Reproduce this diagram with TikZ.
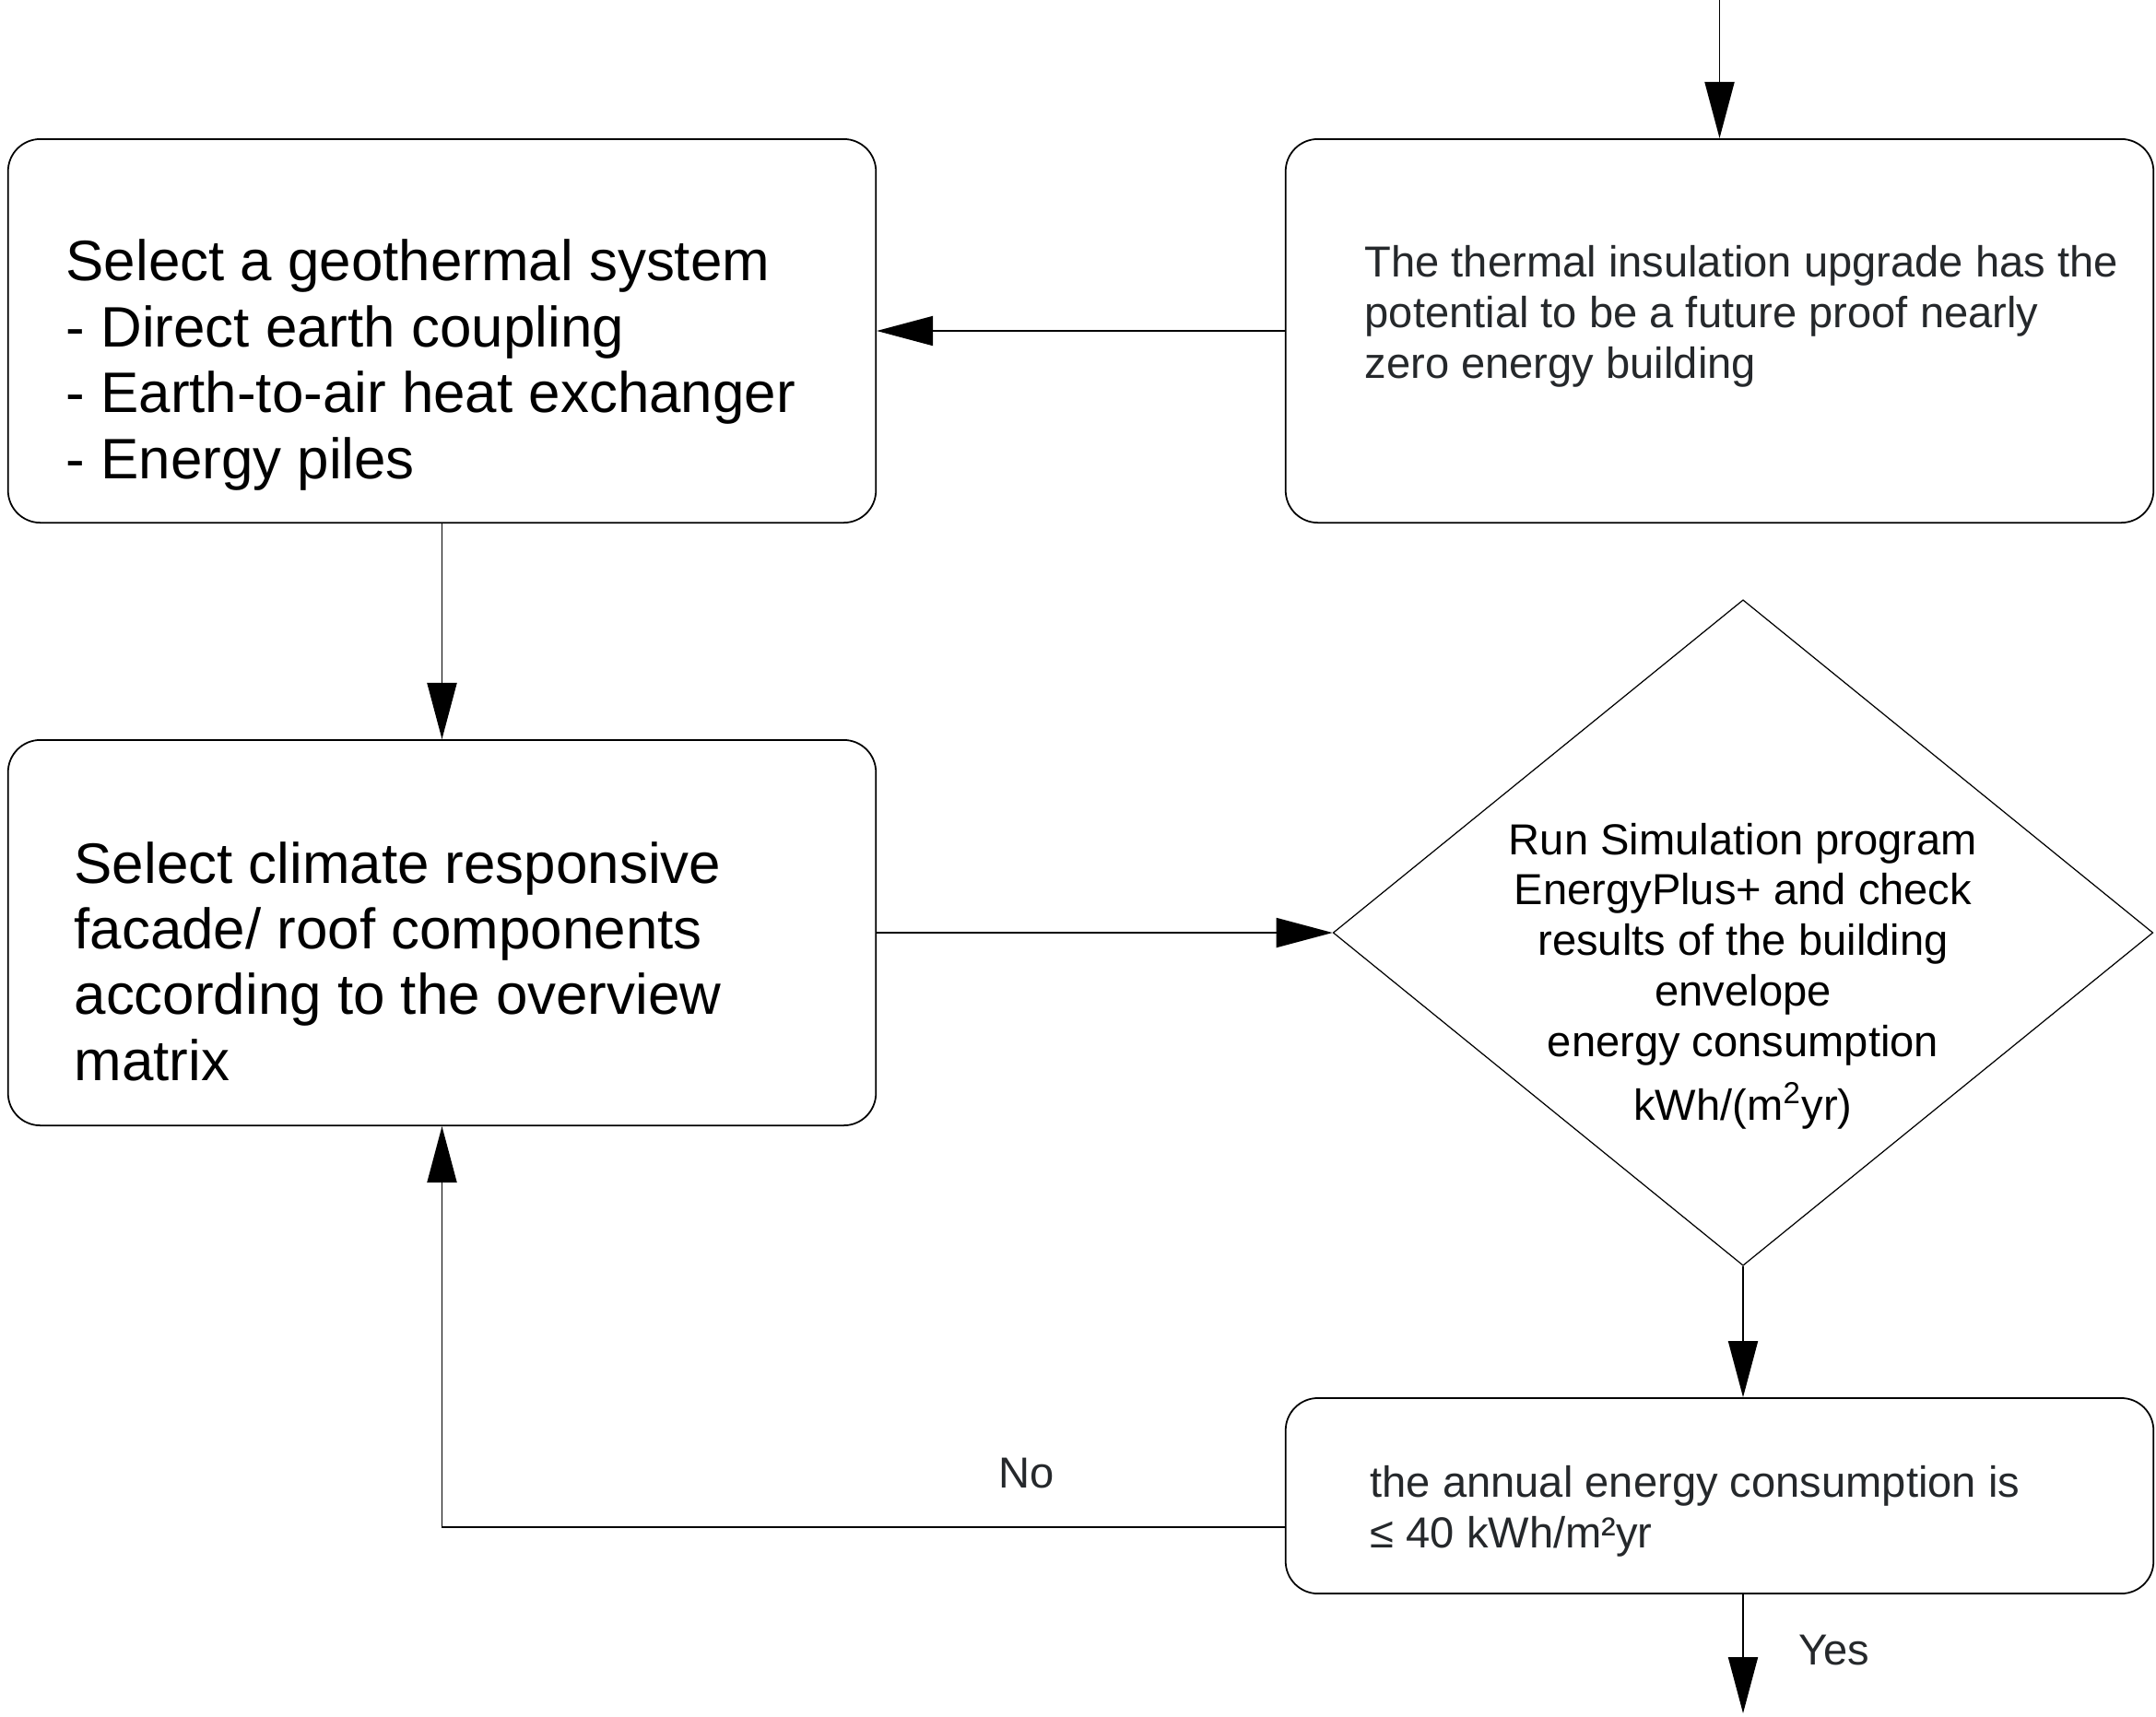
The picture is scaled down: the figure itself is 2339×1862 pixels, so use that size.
\documentclass[tikz,border=0pt]{standalone}
\usepackage{fontspec}
\setmainfont{Liberation Sans}
\usetikzlibrary{positioning,arrows.meta,shapes.geometric}
\definecolor{inkgrey}{RGB}{37,40,43}
\tikzset{
  stepbox/.style={draw,rounded corners=0.35cm,line width=0.5pt,minimum width=9.41cm,inner sep=0pt},
  bigtxt/.style={font=\fontsize{17.6}{20.3}\selectfont,align=left,inner sep=0pt},
  smalltxt/.style={font=\fontsize{13.4}{15.6}\selectfont,inner sep=0pt},
  flow/.style={line width=0.55pt,-{Triangle[length=0.61cm,width=0.32cm]}},
}

\begin{document}
\begin{tikzpicture}[x=0.01cm,y=-0.01cm]
    \useasboundingbox (0,0) rectangle (2339,1862);
    % the four steps and the simulation check
    \node[stepbox,minimum height=4.16cm] (geoBox) at (479.5,359) {};
    \node[stepbox,minimum height=4.16cm] (insBox) at (1865.5,359) {};
    \node[stepbox,minimum height=4.18cm] (facBox) at (479.5,1012) {};
    \node[stepbox,minimum height=2.12cm] (chkBox) at (1865.5,1623) {};
    \node[draw,diamond,line width=0.35pt,minimum width=8.89cm,minimum height=7.22cm,inner sep=0pt] (simDia) at (1891,1012) {};
    % texts
    \node[bigtxt,anchor=west,right=0.63cm of geoBox.west,yshift=-0.37cm] (geoTxt)
      {Select a geothermal system\\- Direct earth coupling\\- Earth-to-air heat exchanger\\- Energy piles};
    \node[smalltxt,inkgrey,align=left,anchor=west,right=0.86cm of insBox.west,yshift=0.16cm] (insTxt)
      {The thermal insulation upgrade has the\\potential to be a future proof nearly\\zero energy building};
    \node[bigtxt,anchor=west,right=0.72cm of facBox.west,yshift=-0.31cm] (facTxt)
      {Select climate responsive\\facade/ roof components\\according to the overview\\matrix};
    \node[smalltxt,align=center,yshift=-0.47cm] (simTxt) at (simDia)
      {Run Simulation program\\EnergyPlus+ and check\\results of the building\\envelope\\energy consumption\\[4pt]kWh/(m\textsuperscript{2}yr)};
    \node[smalltxt,inkgrey,align=left,anchor=west,right=0.92cm of chkBox.west,yshift=-0.17cm] (chkTxt)
      {the annual energy consumption is\\≤ 40 kWh/m²yr};
    % connectors
    \coordinate (topEdge) at (0,0);
    \coordinate (yesEnd) at (1891,1859);
    \coordinate (noStart) at ([yshift=-0.34cm]chkBox.west);
    \draw[flow] (insBox.north |- topEdge) -- (insBox.north);
    \draw[flow] (insBox.west) -- (geoBox.east);
    \draw[flow] (geoBox.south) -- (facBox.north);
    \draw[flow] (facBox.east) -- (simDia.west);
    \draw[flow] (simDia.south) -- (simDia.south |- chkBox.north);
    \draw[flow] (simDia.south |- chkBox.south) -- (yesEnd);
    \draw[flow] (noStart) -| (facBox.south);
    \node[smalltxt,inkgrey] (noLbl) at (1114,1598) {No};
    \node[smalltxt,inkgrey] (yesLbl) at (1990,1790) {Yes};
\end{tikzpicture}
\end{document}
